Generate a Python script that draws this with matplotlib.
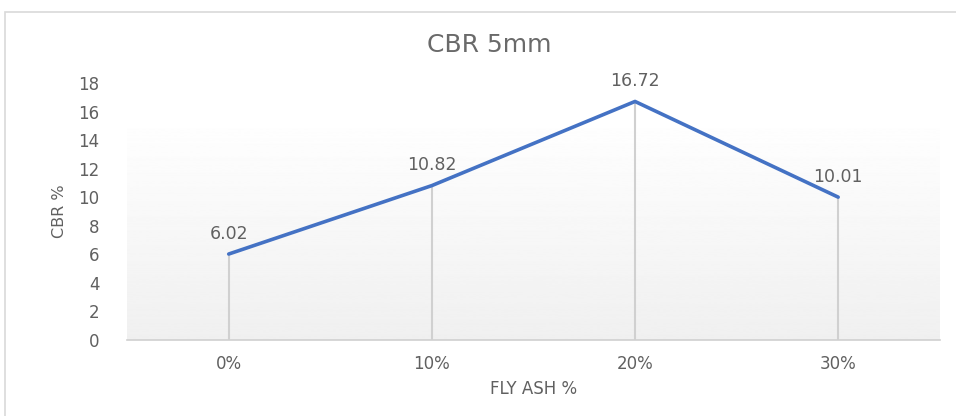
import numpy as np
import matplotlib.pyplot as plt
from matplotlib.patches import Rectangle

categories = ["0%", "10%", "20%", "30%"]
cbr_values = [6.02, 10.82, 16.72, 10.01]
y_ticks = [0, 2, 4, 6, 8, 10, 12, 14, 16, 18]

plt.rcParams['font.family'] = ['DejaVu Sans']
text_color = '#606060'

fig = plt.figure(figsize=(9.56, 4.16), dpi=100)
ax = fig.add_axes([0.133, 0.183, 0.85, 0.617])

# outer chart border
fig.patches.append(Rectangle((0.005, -0.01), 1.0, 0.982, transform=fig.transFigure,
                             fill=False, edgecolor='#d9d9d9', linewidth=1.2))

x = np.arange(len(categories))
ax.set_xlim(-0.5, len(categories) - 0.5)
ax.set_ylim(0, 18)

# gradient plot area
grad = np.linspace(0.94, 1.0, 256).reshape(-1, 1)
ax.imshow(grad, extent=(-0.5, len(categories) - 0.5, 0, 15.9), origin='lower',
          cmap='gray', vmin=0, vmax=1, aspect='auto', zorder=0)

ax.vlines(x, 0, cbr_values, color='#d0d0d0', linewidth=1.5, zorder=1)
ax.plot(x, cbr_values, color='#4472C4', linewidth=2.6, solid_capstyle='round', zorder=3)

for xi, v in zip(x, cbr_values):
    ax.annotate(f"{v:.2f}", (xi, v), xytext=(0, 8), textcoords='offset points',
                ha='center', va='bottom', fontsize=12.5, color=text_color)

ax.set_xticks(x)
ax.set_xticklabels(categories)
ax.set_yticks(y_ticks)
ax.tick_params(length=0, labelsize=12, colors=text_color)
ax.tick_params(axis='x', pad=11)
ax.tick_params(axis='y', pad=20)
for s in ['top', 'right', 'left']:
    ax.spines[s].set_visible(False)
ax.spines['bottom'].set_color('#d0d0d0')
ax.spines['bottom'].set_linewidth(1.2)

ax.set_xlabel('FLY ASH %', fontsize=12, color=text_color, labelpad=5)
ax.set_ylabel('CBR %', fontsize=11.5, color=text_color, labelpad=8)
fig.text(0.512, 0.892, 'CBR 5mm', ha='center', va='center', fontsize=18, color='#6a6a6a')

fig.savefig('out.png', dpi=100)
